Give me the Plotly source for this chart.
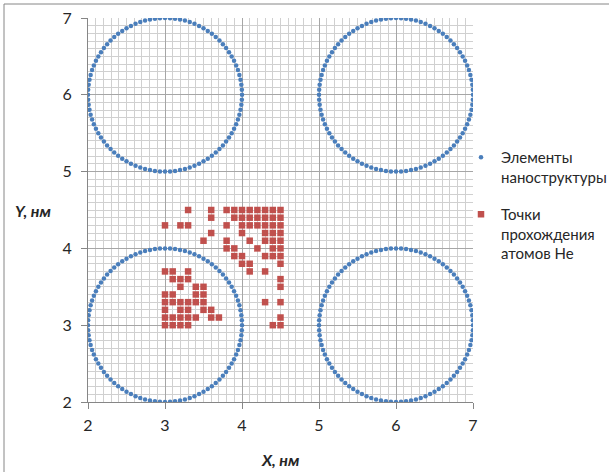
import math
import plotly.graph_objects as go

# ---- data ----
circle_cx = [3, 3, 6, 6]
circle_cy = [3, 6, 3, 6]
circle_r = 1.0
angles_deg = [0, 3.75, 7.5, 11.25, 15, 18.75, 22.5, 26.25, 30, 33.75, 37.5, 41.25,
              45, 48.75, 52.5, 56.25, 60, 63.75, 67.5, 71.25, 75, 78.75, 82.5, 86.25,
              90, 93.75, 97.5, 101.25, 105, 108.75, 112.5, 116.25, 120, 123.75, 127.5, 131.25,
              135, 138.75, 142.5, 146.25, 150, 153.75, 157.5, 161.25, 165, 168.75, 172.5, 176.25,
              180, 183.75, 187.5, 191.25, 195, 198.75, 202.5, 206.25, 210, 213.75, 217.5, 221.25,
              225, 228.75, 232.5, 236.25, 240, 243.75, 247.5, 251.25, 255, 258.75, 262.5, 266.25,
              270, 273.75, 277.5, 281.25, 285, 288.75, 292.5, 296.25, 300, 303.75, 307.5, 311.25,
              315, 318.75, 322.5, 326.25, 330, 333.75, 337.5, 341.25, 345, 348.75, 352.5, 356.25]

# He atom pass points: rows of (Y, list of X)
he_rows_y = [4.5, 4.4, 4.3, 4.2, 4.1, 4.0, 3.9, 3.8, 3.7, 3.6, 3.5, 3.4, 3.3, 3.2, 3.1, 3.0]
he_rows_x = [
    [3.3, 3.6, 3.8, 3.9, 4.0, 4.1, 4.2, 4.3, 4.4, 4.5],
    [3.6, 3.9, 4.0, 4.1, 4.2, 4.3, 4.4, 4.5],
    [3.0, 3.2, 3.3, 3.8, 4.0, 4.1, 4.2, 4.3, 4.4, 4.5],
    [3.6, 4.0, 4.3, 4.4, 4.5],
    [3.5, 3.8, 4.1, 4.3, 4.4, 4.5],
    [3.8, 3.9, 4.2, 4.4, 4.5],
    [3.9, 4.0, 4.3, 4.4, 4.5],
    [4.0, 4.1, 4.5],
    [3.0, 3.1, 3.3, 4.1, 4.3],
    [3.1, 3.2, 3.3, 4.5],
    [3.2, 3.4, 3.5, 4.5],
    [3.0, 3.1, 3.4, 3.5],
    [3.0, 3.1, 3.2, 3.3, 3.4, 3.5, 4.3, 4.5],
    [3.0, 3.2, 3.3, 3.5, 3.6],
    [3.0, 3.1, 3.2, 3.3, 3.4, 3.6, 3.7, 4.5],
    [3.0, 3.1, 3.2, 3.3, 4.4, 4.5],
]

axis_ticks = [2, 3, 4, 5, 6, 7]

# ---- build series ----
blue_x, blue_y = [], []
for cx, cy in zip(circle_cx, circle_cy):
    for a in angles_deg:
        t = math.radians(a)
        blue_x.append(cx + circle_r * math.cos(t))
        blue_y.append(cy + circle_r * math.sin(t))

red_x, red_y = [], []
for y, xs in zip(he_rows_y, he_rows_x):
    for x in xs:
        red_x.append(x)
        red_y.append(y)

FONT = "Lato"
BLUE = "#4a7ebb"
RED = "#c0504d"

fig = go.Figure()
fig.add_trace(go.Scatter(
    x=blue_x, y=blue_y, mode="markers", name="Элементы<br>наноструктуры",
    legendgroup="a",
    marker=dict(symbol="circle", size=4.5, color=BLUE, line=dict(width=0)),
))
fig.add_trace(go.Scatter(
    x=red_x, y=red_y, mode="markers", name="Точки<br>прохождения<br>атомов He",
    legendgroup="b",
    marker=dict(symbol="square", size=6.5, color=RED, line=dict(width=0)),
))

L, R, T, B = 88, 136, 18, 70
W, H = 609, 472
pw, ph = W - L - R, H - T - B

def px(xp):
    return (xp - L) / pw

def py(yp):
    return (H - B - yp) / ph

axis_common = dict(
    range=[2, 7], tickvals=axis_ticks, ticktext=[str(v) for v in axis_ticks],
    showgrid=True, gridcolor="#a6a6a6", gridwidth=1,
    minor=dict(dtick=0.1, showgrid=True, gridcolor="#d0d0d0", gridwidth=1),
    showline=True, linecolor="#868686", linewidth=1,
    ticks="outside", ticklen=6, tickcolor="#868686",
    tickfont=dict(family=FONT, size=16, color="#262626"),
    zeroline=False, fixedrange=True,
)

fig.update_layout(
    width=W, height=H,
    margin=dict(l=L, r=R, t=T, b=B, autoexpand=False),
    paper_bgcolor="white", plot_bgcolor="white",
    xaxis=dict(**axis_common, ticklabelstandoff=3),
    yaxis=dict(**axis_common, ticklabelstandoff=6),
    showlegend=True,
    legend=dict(
        x=px(461), y=py(141), xanchor="left", yanchor="top",
        font=dict(family=FONT, size=15, color="#262626"),
        valign="top", tracegroupgap=15, itemwidth=30,
        bgcolor="rgba(0,0,0,0)", borderwidth=0,
    ),
    annotations=[
        dict(text="<b><i>Y, нм</i></b>", xref="paper", yref="paper",
             x=px(33), y=py(210), xanchor="center", yanchor="middle",
             showarrow=False, font=dict(family=FONT, size=16, color="#262626")),
        dict(text="<b><i>X, нм</i></b>", xref="paper", yref="paper",
             x=px(280), y=py(459), xanchor="center", yanchor="middle",
             showarrow=False, font=dict(family=FONT, size=16, color="#262626")),
    ],
    shapes=[
        dict(type="rect", xref="paper", yref="paper",
             x0=px(4), x1=px(700), y0=py(600), y1=py(4),
             line=dict(color="#868686", width=1), fillcolor="rgba(0,0,0,0)", layer="below"),
    ],
)

fig.write_html("out.html")
